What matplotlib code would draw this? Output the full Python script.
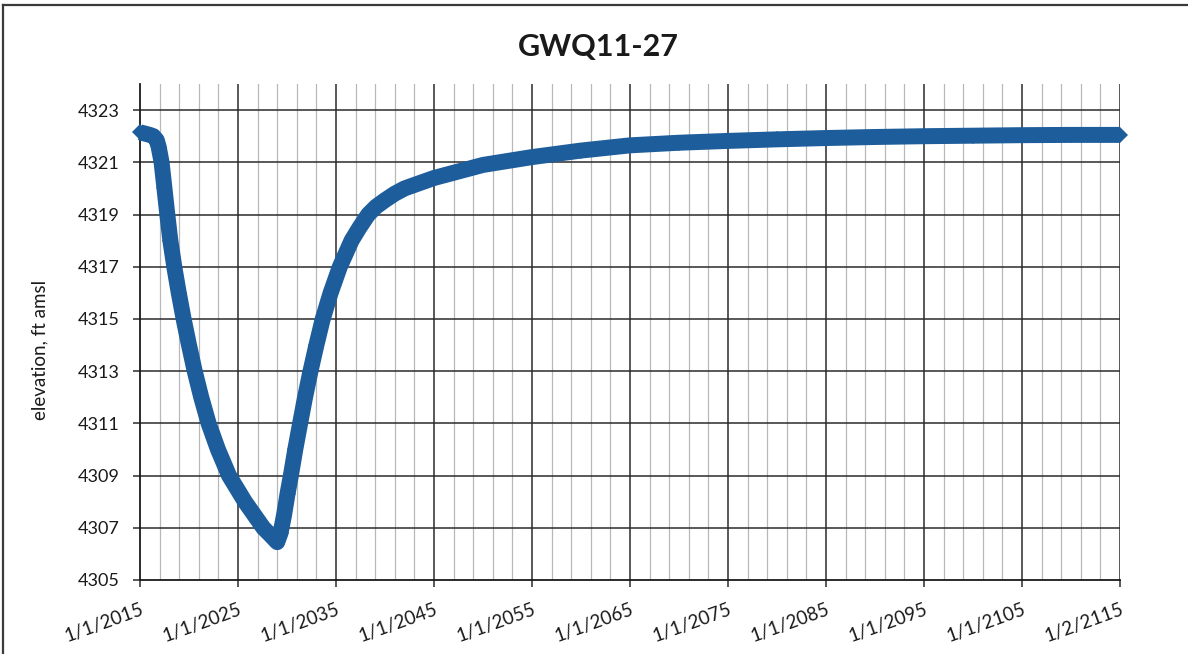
import matplotlib
matplotlib.use("Agg")
import matplotlib.pyplot as plt
import matplotlib.dates as mdates
from matplotlib.lines import Line2D
import pandas as pd

# Simulated groundwater elevation at well GWQ11-27
dates = [
    "2015-01-01", "2016-01-01", "2016-05-15", "2016-09-15", "2016-11-25",
    "2017-01-20", "2017-03-15", "2017-07-01", "2017-10-15", "2018-02-05",
    "2018-07-01", "2018-12-15", "2019-06-15", "2020-01-01", "2020-08-01",
    "2021-04-01", "2022-01-01", "2022-12-15", "2024-02-01", "2025-09-15",
    "2027-08-01", "2028-05-15", "2029-01-01", "2029-05-05", "2029-09-15",
    "2030-01-20", "2030-05-25", "2030-11-05", "2031-05-05", "2031-11-05",
    "2032-05-25", "2033-01-01", "2033-08-25", "2034-06-15", "2035-05-25",
    "2036-08-01", "2037-05-25", "2038-04-15", "2039-02-01", "2040-01-01",
    "2041-01-01", "2042-01-01", "2043-07-01", "2045-01-01", "2047-01-01",
    "2050-01-01", "2052-07-01", "2055-01-01", "2060-01-01", "2065-01-01",
    "2070-01-01", "2075-01-01", "2080-01-01", "2085-01-01", "2090-01-01",
    "2095-01-01", "2100-01-01", "2105-01-01", "2110-01-01", "2115-01-02",
]
elevation = [
    4322.15, 4322.05, 4322.0, 4321.85, 4321.6,
    4321.3, 4321.0, 4320.0, 4319.0, 4318.0,
    4317.0, 4316.0, 4315.0, 4314.0, 4313.0,
    4312.0, 4311.0, 4310.0, 4309.0, 4308.0,
    4307.0, 4306.7, 4306.45, 4306.8, 4307.5,
    4308.3, 4309.0, 4310.0, 4311.0, 4312.0,
    4313.0, 4314.0, 4315.0, 4316.0, 4317.0,
    4318.0, 4318.5, 4319.0, 4319.3, 4319.55,
    4319.8, 4320.0, 4320.2, 4320.4, 4320.6,
    4320.9, 4321.05, 4321.2, 4321.45, 4321.65,
    4321.75, 4321.82, 4321.88, 4321.93, 4321.97,
    4322.0, 4322.02, 4322.04, 4322.05, 4322.05,
]

x_tick_dates = ["2015-01-01", "2025-01-01", "2035-01-01", "2045-01-01",
                "2055-01-01", "2065-01-01", "2075-01-01", "2085-01-01",
                "2095-01-01", "2105-01-01", "2115-01-02"]
x_tick_labels = ["1/1/2015", "1/1/2025", "1/1/2035", "1/1/2045", "1/1/2055",
                 "1/1/2065", "1/1/2075", "1/1/2085", "1/1/2095", "1/1/2105",
                 "1/2/2115"]
y_ticks = [4305, 4307, 4309, 4311, 4313, 4315, 4317, 4319, 4321, 4323]
y_limits = (4305, 4324)

title = "GWQ11-27"
y_label = "elevation, ft amsl"

plt.rcParams["font.family"] = ["Lato", "DejaVu Sans"]

W, H = 1188, 654
fig = plt.figure(figsize=(W / 100, H / 100), dpi=100)
fig.patch.set_facecolor("white")

ax = fig.add_axes([140 / W, 1 - 580 / H, 980 / W, 496 / H])

x = mdates.date2num(pd.to_datetime(dates))
xt = mdates.date2num(pd.to_datetime(x_tick_dates))
# light minor grid every second year between the decade lines
minor_years = [y for y in range(2017, 2115, 2) if (y - 2015) % 10 != 0]
minor_x = mdates.date2num(pd.to_datetime([f"{y}-01-01" for y in minor_years]))

blue = "#1d5d9b"
ax.plot(x, elevation, color=blue, lw=11.5, solid_joinstyle="round",
        solid_capstyle="butt", marker="D", markersize=8.0,
        markerfacecolor=blue, markeredgecolor=blue, markeredgewidth=0,
        zorder=3, clip_on=False)

ax.set_xlim(xt[0], xt[-1])
ax.set_ylim(*y_limits)

# grid lines
for v in minor_x:
    ax.axvline(v, color="#b8b8b8", lw=0.9, zorder=1)
for v in xt[1:]:
    ax.axvline(v, color="#2b2b2b", lw=1.1, zorder=1.5)
for v in y_ticks[1:]:
    ax.axhline(v, color="#2b2b2b", lw=1.1, zorder=1.5)

ax.set_xticks(xt)
ax.set_xticklabels(x_tick_labels, rotation=20, ha="right", va="top",
                   rotation_mode="anchor")
ax.set_yticks(y_ticks)
ax.set_yticklabels([str(v) for v in y_ticks])
ax.tick_params(axis="both", direction="out", length=5, width=1.1,
               color="#2b2b2b", labelcolor="#1a1a1a")
ax.tick_params(axis="y", pad=10, labelsize=13)
ax.tick_params(axis="x", pad=10, labelsize=13.5)

for side in ("top", "right"):
    ax.spines[side].set_visible(False)
for side in ("left", "bottom"):
    ax.spines[side].set_color("#1a1a1a")
    ax.spines[side].set_linewidth(1.3)

fig.text(598 / W, 1 - 47 / H, title, ha="center", va="center",
         fontsize=22, fontweight="bold", color="#1a1a1a")
fig.text(40 / W, 1 - 350 / H, y_label, ha="center", va="center",
         rotation=90, fontsize=13.5, color="#1a1a1a")

# outer chart frame
fig.add_artist(Line2D([3 / W, 3 / W], [0, 1 - 5 / H], transform=fig.transFigure,
                      color="#3a3a3a", lw=1.6))
fig.add_artist(Line2D([3 / W, 1], [1 - 5 / H, 1 - 5 / H], transform=fig.transFigure,
                      color="#3a3a3a", lw=1.6))

fig.savefig("out.png", dpi=100, facecolor="white")
